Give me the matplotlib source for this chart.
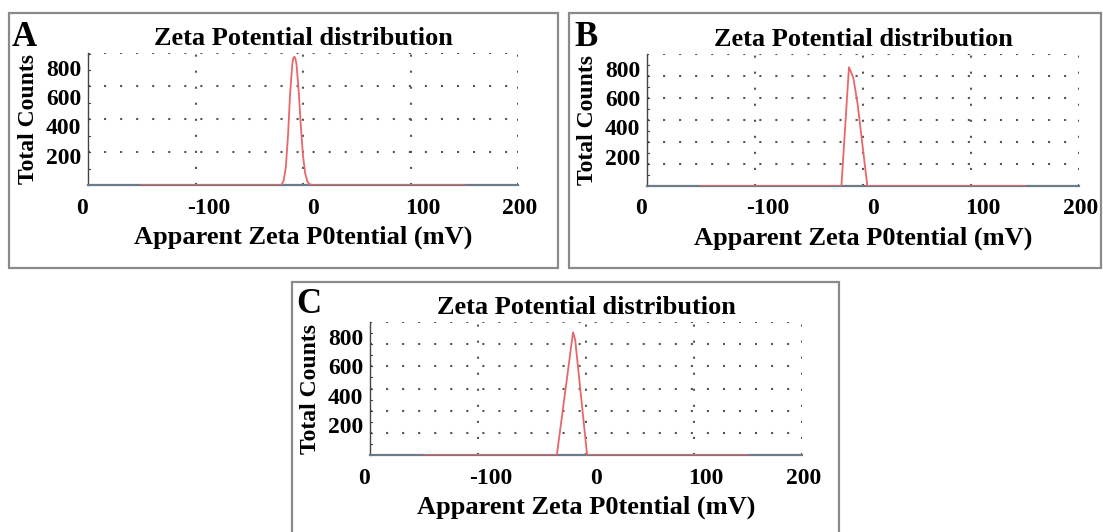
import matplotlib
matplotlib.use("Agg")
import matplotlib.pyplot as plt
from matplotlib.patches import Rectangle
from matplotlib.transforms import ScaledTranslation

plt.rcParams['font.family'] = ['Liberation Serif', 'DejaVu Serif']
plt.rcParams['font.weight'] = 'bold'

# data (mV, total counts)
zeta_a = [-150, -20, -18, -16, -14, -12, -10, -9, -8, -7, -6, -4, -2, 0, 2, 4, 6, 9, 150]
counts_a = [0, 0, 30, 120, 330, 620, 820, 865, 875, 860, 820, 640, 400, 200, 80, 25, 5, 0, 0]

zeta_b = [-150, -20, -13, -11, -9, -5, 4, 150]
counts_b = [0, 0, 810, 775, 740, 560, 0, 0]

zeta_c = [-150, -27, -12, -10, 1, 150]
counts_c = [0, 0, 830, 780, 0, 0]

x_ticks = [-200, -100, 0, 100, 200]
x_tick_labels = ["0", "-100", "0", "100", "200"]
y_ticks = [200, 400, 600, 800]
panels = ["A", "B", "C"]

W, H = 1103, 532
fig = plt.figure(figsize=(W / 100, H / 100), dpi=100)


def px(x0, y0, x1, y1):
    # pixel box (top-left origin) -> figure fraction rect
    return [x0 / W, 1 - y1 / H, (x1 - x0) / W, (y1 - y0) / H]


def frame(x0, y0, x1, y1):
    fig.patches.append(Rectangle((x0 / W, 1 - y1 / H), (x1 - x0) / W, (y1 - y0) / H,
                                 transform=fig.transFigure, fill=False,
                                 edgecolor="#8a8a8a", linewidth=1.6))


def panel(box, zeta, counts, grid_step):
    ax = fig.add_axes(px(*box))
    ax.plot(zeta, counts, color="#e8676b", linewidth=1.3, zorder=3)
    ax.set_xlim(-200, 200)
    ax.set_ylim(0, 900)
    ax.set_xticks(x_ticks)
    ax.set_xticklabels(x_tick_labels)
    ax.set_yticks(y_ticks)
    ax.tick_params(axis="both", length=0, labelsize=17)
    ax.tick_params(axis="x", pad=9)
    ax.tick_params(axis="y", pad=5)
    # the labels sit a little right of their grid lines in the original
    shifts = [-6, 13, 10, 12, 2]
    for lab, dx in zip(ax.get_xticklabels(), shifts):
        lab.set_transform(lab.get_transform() + ScaledTranslation(dx / 100, 0, fig.dpi_scale_trans))
    ax.spines["top"].set_visible(False)
    ax.spines["right"].set_visible(False)
    ax.spines["left"].set_color("#444444")
    ax.spines["left"].set_linewidth(1.0)
    ax.spines["bottom"].set_color("#6d7b88")
    ax.spines["bottom"].set_linewidth(1.6)
    dots = dict(color="#555555", linestyle=(0, (1, 6.7)), linewidth=1.5, zorder=1)
    for g in range(grid_step, 901, grid_step):
        ax.axhline(g, **dots)
    for g in [-100, 0, 100, 200]:
        ax.axvline(g, **dots)
    # small inward marks on the count axis
    for g in range(grid_step // 2, 900, grid_step // 2):
        ax.plot([-200, -198], [g, g], color="#444444", linewidth=0.8, clip_on=False)
    ax.set_title("Zeta Potential distribution", fontsize=19, fontweight="bold", pad=6)
    ax.set_xlabel("Apparent Zeta P0tential (mV)", fontsize=19, fontweight="bold", labelpad=5)
    ax.set_ylabel("Total Counts", fontsize=17, fontweight="bold", labelpad=5)
    return ax


frame(9, 13, 558, 268)
frame(569, 13, 1101, 268)
frame(292, 282, 839, 540)

panel((88, 53, 518, 185), zeta_a, counts_a, 225)
panel((647, 54, 1079, 186), zeta_b, counts_b, 150)
panel((370, 322, 802, 455), zeta_c, counts_c, 150)

for letter, (lx, ly) in zip(panels, [(12, 46), (574, 46), (296, 313)]):
    fig.text(lx / W, 1 - ly / H, letter, fontsize=25, fontweight="bold",
             ha="left", va="baseline")

fig.savefig("out.png", dpi=100)
